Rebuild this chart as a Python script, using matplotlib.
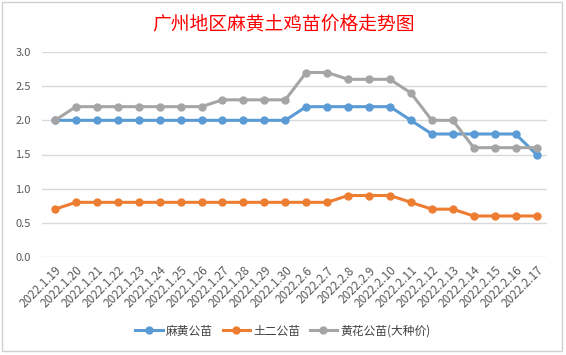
import numpy as np
import matplotlib.pyplot as plt
from matplotlib.patches import Rectangle

plt.rcParams['font.family'] = ['Noto Sans CJK SC', 'DejaVu Sans']

dates = ['2022.1.19', '2022.1.20', '2022.1.21', '2022.1.22', '2022.1.23', '2022.1.24',
         '2022.1.25', '2022.1.26', '2022.1.27', '2022.1.28', '2022.1.29', '2022.1.30',
         '2022.2.6', '2022.2.7', '2022.2.8', '2022.2.9', '2022.2.10', '2022.2.11',
         '2022.2.12', '2022.2.13', '2022.2.14', '2022.2.15', '2022.2.16', '2022.2.17']
mahuang = [2.0, 2.0, 2.0, 2.0, 2.0, 2.0, 2.0, 2.0, 2.0, 2.0, 2.0, 2.0,
           2.2, 2.2, 2.2, 2.2, 2.2, 2.0, 1.8, 1.8, 1.8, 1.8, 1.8, 1.5]
tuer = [0.7, 0.8, 0.8, 0.8, 0.8, 0.8, 0.8, 0.8, 0.8, 0.8, 0.8, 0.8,
        0.8, 0.8, 0.9, 0.9, 0.9, 0.8, 0.7, 0.7, 0.6, 0.6, 0.6, 0.6]
huanghua = [2.0, 2.2, 2.2, 2.2, 2.2, 2.2, 2.2, 2.2, 2.3, 2.3, 2.3, 2.3,
            2.7, 2.7, 2.6, 2.6, 2.6, 2.4, 2.0, 2.0, 1.6, 1.6, 1.6, 1.6]
series_names = ['麻黄公苗', '土二公苗', '黄花公苗(大种价)']
colors = ['#5B9BD5', '#ED7D31', '#A5A5A5']
yticks = [0.0, 0.5, 1.0, 1.5, 2.0, 2.5, 3.0]

fig = plt.figure(figsize=(5.66, 3.55), dpi=100)
fig.patches.append(Rectangle((2 / 566, 4 / 355), 560 / 566, 349 / 355,
                             transform=fig.transFigure, fill=False,
                             edgecolor='#D0D0D0', linewidth=1.0))

ax = fig.add_axes([42 / 566, (355 - 257) / 355, 505 / 566, 205 / 355])
x = np.arange(len(dates))
for vals, name, c in zip([mahuang, tuer, huanghua], series_names, colors):
    ax.plot(x, vals, '-o', color=c, linewidth=2.2, markersize=5, label=name)

ax.set_xlim(-0.5 - 0.12, len(dates) - 0.5)
ax.set_ylim(0, 3.0)
ax.set_yticks(yticks)
ax.set_yticklabels(['{:.1f}'.format(v) for v in yticks])
ax.set_xticks(x)
ax.set_xticklabels(dates, rotation=45, ha='right', rotation_mode='anchor')
ax.grid(axis='y', color='#D9D9D9', linewidth=1.0)
ax.set_axisbelow(True)
for s in ax.spines.values():
    s.set_visible(False)
ax.tick_params(axis='both', length=0, colors='#595959')
ax.tick_params(axis='y', pad=8, labelsize=8)
ax.tick_params(axis='x', pad=5, labelsize=8.5)

fig.suptitle('广州地区麻黄土鸡苗价格走势图', x=0.5, y=1 - 24 / 355, va='center',
             color='#FF0000', fontsize=13.5)

fig.legend(loc='center', bbox_to_anchor=(0.5, 1 - 331 / 355), ncol=3, frameon=False,
           fontsize=8.5, labelcolor='#404040', handlelength=2.3, columnspacing=0.8,
           handletextpad=0.3)

fig.savefig('out.png', dpi=100)
